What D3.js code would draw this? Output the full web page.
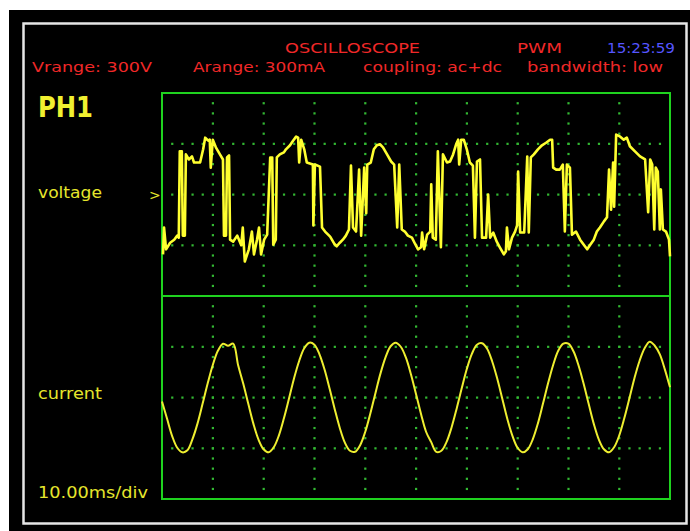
<!DOCTYPE html>
<html>
<head>
<meta charset="utf-8">
<script src="https://cdn.jsdelivr.net/npm/d3@7"></script>
<style>
  html, body { margin: 0; padding: 0; background: #fff; }
  svg { display: block; }
  text { font-family: "DejaVu Sans", sans-serif; }
</style>
</head>
<body>
<div id="scope"></div>
<script>
// header texts of the scope screen
const headerTop = [
  {text: "OSCILLOSCOPE", x0: 285, x1: 420, color: "#f02828"},
  {text: "PWM", x0: 517, x1: 562, color: "#f02828"},
  {text: "15:23:59", x0: 607, x1: 675, color: "#5555ff"}
];
const headerBottom = [
  {text: "Vrange: 300V", x0: 32, x1: 152},
  {text: "Arange: 300mA", x0: 193, x1: 325},
  {text: "coupling: ac+dc", x0: 363, x1: 502},
  {text: "bandwidth: low", x0: 527, x1: 663}
];
const channelName = "PH1";
const traceNames = ["voltage", "current"];
const timebase = "10.00ms/div";

// time in ms, value in divisions
const voltageTime = [
  0.2, 0.4, 0.8, 1.6, 2.4, 3.0, 3.3, 3.5, 3.9, 4.1, 4.5, 4.7, 5.3, 5.9, 6.3, 7.5, 8.1, 8.5, 9.1, 9.4,
  9.6, 10.0, 10.6, 11.4, 12.0, 12.2, 12.6, 12.8, 13.2, 13.4, 14.0, 14.8, 15.6, 15.9, 16.3, 17.1, 17.7, 18.1, 18.7, 19.1,
  19.5, 20.1, 20.7, 21.3, 21.7, 21.9, 22.4, 22.6,
  23.2, 24.0, 24.4, 25.2, 25.8, 26.4, 26.8, 27.0, 27.4, 28.0, 28.5, 29.7, 29.8, 30.1, 31.1, 31.5, 32.1, 33.1, 33.9, 34.4,
  35.0, 35.6, 36.2, 36.8,
  37.2, 37.6, 38.2, 38.8, 39.2, 39.8, 40.2, 40.4, 41.1, 41.7, 42.3, 42.9, 43.5, 44.3, 45.1, 45.7, 46.3, 46.7, 47.2, 47.8,
  48.4, 49.2, 49.8, 50.4, 51.0, 51.2, 51.6, 52.2, 52.8, 53.0, 53.3, 53.9, 54.3, 54.9, 55.3,
  56.1, 56.7, 57.3, 57.9, 58.3, 58.5, 58.9, 59.4, 60.0, 60.6, 61.2, 61.6, 62.0, 62.6, 63.0, 63.8, 64.2, 64.6, 65.2, 65.9,
  66.5, 67.3, 67.7, 67.9, 68.3, 68.9, 69.5, 69.9, 70.1, 70.5, 71.3, 71.9, 72.2, 72.6,
  73.2, 74.0, 74.8, 75.6, 76.4, 76.8, 77.0, 77.6, 78.3, 78.9, 79.3, 79.7, 80.3, 80.7, 81.5, 82.3, 83.1, 83.7, 84.3, 85.0,
  85.6, 86.2, 87.0, 87.6, 88.0, 88.4, 88.8, 89.0, 89.4,
  90.2, 90.9, 91.5, 92.1, 93.1, 94.1, 95.1, 95.7, 96.1, 96.5, 96.9, 97.2, 97.6, 98.0, 98.2, 98.6, 99.2, 99.8, 100.0
];
const voltageValue = [
  -1.18, -0.65, -1.08, -0.95, -0.89, -0.81, -0.85, 0.85, 0.85, -0.81, -0.81, 0.79, 0.69, 0.75, 0.63, 0.63, 0.89, 1.12, 1.06, 1.08,
  0.53, 1.08, 0.93, 0.79, 0.69, -0.81, -0.81, 0.73, 0.77, -0.89, -0.93, -0.81, -1.00, -0.65, -1.32, -1.08, -0.73, -1.18, -0.89, -0.65,
  -1.18, -0.89, -0.79, 0.73, 0.73, -0.99, -0.89, 0.73,
  0.79, 0.83, 0.89, 0.97, 1.06, 1.14, 1.12, 0.63, 1.08, 0.89, 0.63, 0.59, -0.61, 0.59, 0.55, -0.65, -0.73, -0.83, -0.97, -1.02,
  -0.95, -0.89, -0.81, -0.69,
  0.57, -0.65, -0.73, 0.49, -0.81, 0.53, -0.37, 0.59, 0.63, 0.89, 0.97, 0.99, 0.93, 0.79, 0.65, 0.59, -0.65, 0.59, -0.69, -0.73,
  -0.81, -0.85, -0.97, -1.08, -1.04, -0.75, -1.08, -0.79, -0.73, 0.20, -0.85, -0.89, 0.85, -1.04, 0.79,
  0.63, 0.65, 0.79, 0.99, 1.08, 0.59, 1.08, 1.08, 0.89, 0.63, 0.57, -0.85, 0.65, 0.69, -0.85, -0.85, 0.00, -0.85, -0.75, -0.93,
  -1.04, -1.18, -1.12, -0.65, -1.08, -0.85, -0.73, -0.61, 0.45, -0.75, -0.75, 0.75, -0.75, 0.73,
  0.79, 0.89, 0.97, 1.02, 1.08, 1.08, 0.53, 0.49, 0.49, 0.59, -0.73, 0.59, 0.53, -0.79, -0.73, -0.89, -1.00, -1.08, -0.99, -0.89,
  -0.73, -0.65, -0.53, -0.45, 0.49, -0.30, 0.63, -0.24, 1.18,
  1.14, 1.08, 1.12, 0.95, 0.85, 0.75, 0.69, -0.35, 0.69, 0.59, -0.69, 0.53, 0.45, -0.69, 0.10, -0.69, -0.73, -0.89, -1.22
];

// current sampled every 1 ms, 0..100 ms, in divisions
const currentValue = [
  -0.08, -0.42, -0.76, -0.99, -1.08, -1.04, -0.82, -0.51, -0.12, 0.28,
  0.64, 0.92, 1.06, 1.02, 1.06, 0.63, 0.27, -0.13, -0.52, -0.83,
  -1.02, -1.08, -0.98, -0.75, -0.41, -0.02, 0.38, 0.72, 0.97, 1.08,
  1.04, 0.85, 0.55, 0.17, -0.23, -0.60, -0.89, -1.05, -1.07, -0.94,
  -0.68, -0.32, 0.08, 0.47, 0.79, 1.01, 1.08, 1.00, 0.79, 0.46,
  0.07, -0.33, -0.68, -0.88, -1.07, -1.05, -0.88, -0.59, -0.22, 0.18,
  0.56, 0.86, 1.04, 1.07, 0.96, 0.71, 0.37, -0.03, -0.43, -0.76,
  -0.99, -1.08, -1.02, -0.82, -0.51, -0.12, 0.28, 0.64, 0.92, 1.06,
  1.06, 0.91, 0.63, 0.27, -0.13, -0.52, -0.83, -1.02, -1.08, -0.98,
  -0.75, -0.41, -0.02, 0.38, 0.72, 0.97, 1.10, 1.02, 0.85, 0.55,
  0.20
];

const W = 690, H = 531;
const svg = d3.select("#scope").append("svg")
  .attr("width", W)
  .attr("height", H);

// bezel
svg.append("rect").attr("x", 9).attr("y", 10).attr("width", W - 9).attr("height", H - 10).attr("fill", "#000");
svg.append("rect")
  .attr("x", 23.5).attr("y", 23.5).attr("width", 663).attr("height", 500)
  .attr("fill", "#000").attr("stroke", "#e6e6e6").attr("stroke-width", 2.5);

const x = d3.scaleLinear().domain([0, 100]).range([162, 670]);
const yV = d3.scaleLinear().domain([-2, 2]).range([296, 93]);
const yI = d3.scaleLinear().domain([-2, 2]).range([499, 296]);

// dotted graticule
const grid = svg.append("g").attr("fill", "#33b833");
const divTimes = d3.range(10, 100, 10);
const subTimes = d3.range(2, 100, 2);
const divLevels = [-1, 0, 1];
const subLevels = d3.range(-1.8, 1.81, 0.2);
[yV, yI].forEach(y => {
  divTimes.forEach(t => {
    subLevels.forEach(v => {
      grid.append("rect").attr("x", x(t) - 1).attr("y", y(v) - 1).attr("width", 2.2).attr("height", 2.2);
    });
  });
  divLevels.forEach(v => {
    subTimes.forEach(t => {
      grid.append("rect").attr("x", x(t) - 1).attr("y", y(v) - 1).attr("width", 2.2).attr("height", 2.2);
    });
  });
});

// frame
svg.append("rect")
  .attr("x", 162).attr("y", 93).attr("width", 508).attr("height", 406)
  .attr("fill", "none").attr("stroke", "#1fd21f").attr("stroke-width", 2);
svg.append("line")
  .attr("x1", 162).attr("x2", 670).attr("y1", yV(-2)).attr("y2", yV(-2))
  .attr("stroke", "#1fd21f").attr("stroke-width", 2);

// traces
const vLine = d3.line().x((d, i) => x(voltageTime[i])).y(d => yV(d));
svg.append("path")
  .attr("d", vLine(voltageValue))
  .attr("fill", "none").attr("stroke", "#ffff30").attr("stroke-width", 2.6)
  .attr("stroke-linejoin", "round");

const iLine = d3.line().x((d, i) => x(i)).y(d => yI(d)).curve(d3.curveCatmullRom);
svg.append("path")
  .attr("d", iLine(currentValue))
  .attr("fill", "none").attr("stroke", "#eeee30").attr("stroke-width", 2);

// header texts
svg.selectAll("text.top").data(headerTop).join("text")
  .attr("class", "top")
  .attr("x", d => d.x0).attr("y", 53)
  .attr("textLength", d => d.x1 - d.x0).attr("lengthAdjust", "spacingAndGlyphs")
  .attr("font-size", 14).attr("fill", d => d.color)
  .text(d => d.text);
svg.selectAll("text.bot").data(headerBottom).join("text")
  .attr("class", "bot")
  .attr("x", d => d.x0).attr("y", 72)
  .attr("textLength", d => d.x1 - d.x0).attr("lengthAdjust", "spacingAndGlyphs")
  .attr("font-size", 14).attr("fill", "#f02828")
  .text(d => d.text);

// yellow labels
svg.append("text").attr("x", 38).attr("y", 117)
  .attr("textLength", 55).attr("lengthAdjust", "spacingAndGlyphs")
  .attr("font-size", 29).attr("font-weight", "bold").attr("fill", "#f0f030")
  .text(channelName);
svg.append("text").attr("x", 38).attr("y", 198)
  .attr("textLength", 64).attr("lengthAdjust", "spacingAndGlyphs")
  .attr("font-size", 15).attr("fill", "#e6e62c")
  .text(traceNames[0]);
svg.append("text").attr("x", 149).attr("y", 200)
  .attr("font-size", 14).attr("fill", "#e6e62c")
  .text(">");
svg.append("text").attr("x", 38).attr("y", 399)
  .attr("textLength", 64).attr("lengthAdjust", "spacingAndGlyphs")
  .attr("font-size", 15).attr("fill", "#e6e62c")
  .text(traceNames[1]);
svg.append("text").attr("x", 38).attr("y", 498)
  .attr("textLength", 110).attr("lengthAdjust", "spacingAndGlyphs")
  .attr("font-size", 15).attr("fill", "#e6e62c")
  .text(timebase);
</script>
</body>
</html>
